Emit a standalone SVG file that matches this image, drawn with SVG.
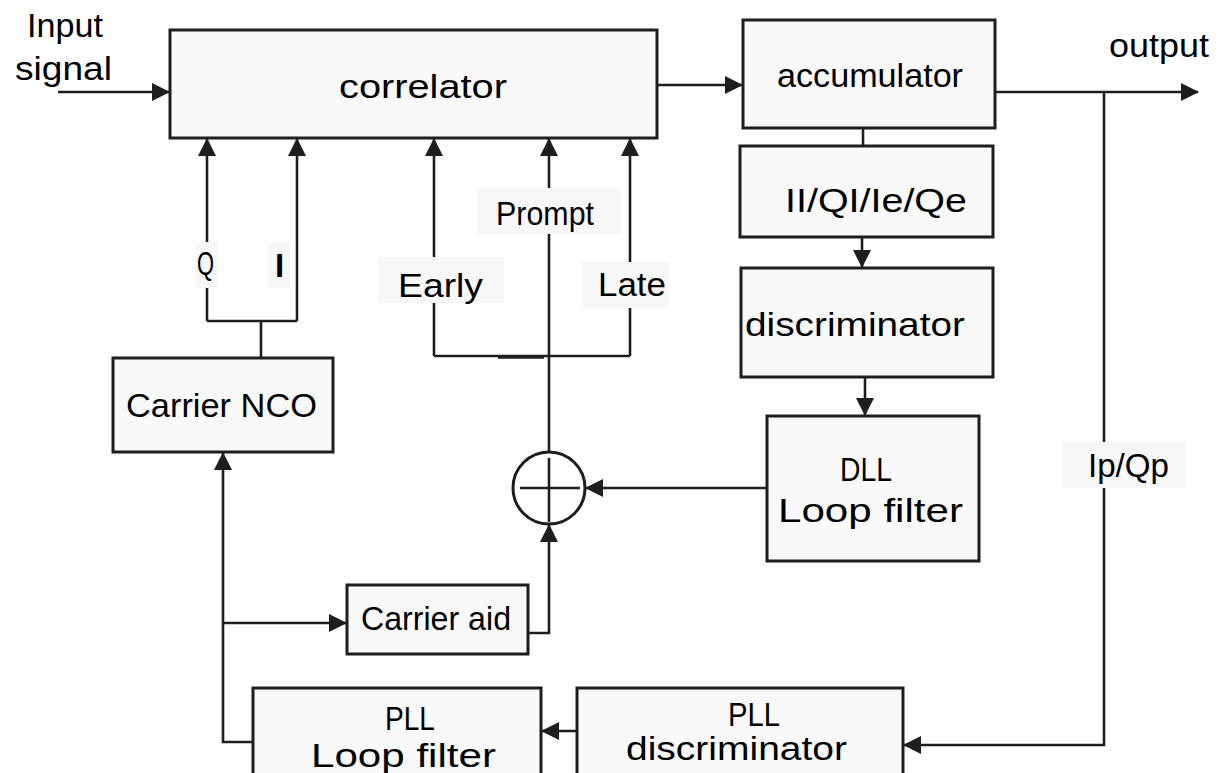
<svg xmlns="http://www.w3.org/2000/svg" width="1221" height="773" viewBox="0 0 1221 773">
<style>
.box{fill:#f9f9f9;stroke:#1e1e1e;stroke-width:3}
.ln{fill:none;stroke:#1e1e1e;stroke-width:2.6}
.arr{marker-end:url(#ah)}
.t{font-family:"Liberation Sans",Arial,sans-serif;font-size:33px;fill:#000}
.lbg{fill:#f7f7f7;stroke:none}
</style>
<defs>
<marker id="ah" viewBox="0 0 18 18" markerWidth="18" markerHeight="18" refX="17" refY="9" orient="auto" markerUnits="userSpaceOnUse">
<path d="M0,0 L18,9 L0,18 z" fill="#1e1e1e"/>
</marker>
</defs>
<rect width="1221" height="773" fill="#fff"/>

<g id="connectors">
<path class="ln arr" d="M58,92 H169"/>
<path class="ln arr" d="M657,85 H742"/>
<path class="ln arr" d="M995,92 H1198"/>
<path class="ln" d="M863,128 V146"/>
<path class="ln arr" d="M862,237 V267"/>
<path class="ln arr" d="M865,373 V415"/>
<path class="ln arr" d="M767,488 H586"/>
<path class="ln arr" d="M528,633 H549 V525"/>
<path class="ln arr" d="M549,452 V139"/>
<path class="ln arr" d="M434,356 V139"/>
<path class="ln arr" d="M630,356 V139"/>
<path class="ln" d="M434,356 H630"/>
<path class="ln" d="M498,357.5 H544"/>
<path class="ln arr" d="M207,321 V139"/>
<path class="ln arr" d="M297,321 V139"/>
<path class="ln" d="M207,321 H297 M261,321 V358"/>
<path class="ln arr" d="M253,742 H223 V453"/>
<path class="ln arr" d="M223,623 H346"/>
<path class="ln arr" d="M1104,92 V745 H904"/>
<path class="ln arr" d="M577,731 H542"/>
</g>

<g id="input-label">
<text class="t" x="27" y="37" textLength="76" lengthAdjust="spacingAndGlyphs">Input</text>
<text class="t" x="15" y="80" textLength="97" lengthAdjust="spacingAndGlyphs">signal</text>
</g>

<g id="correlator">
<rect class="box" x="170" y="30" width="487" height="108"/>
<text class="t" x="339" y="98" textLength="168" lengthAdjust="spacingAndGlyphs">correlator</text>
</g>

<g id="accumulator">
<rect class="box" x="743" y="20" width="252" height="108"/>
<text class="t" x="777" y="87" textLength="186" lengthAdjust="spacingAndGlyphs">accumulator</text>
</g>

<g id="output-label">
<text class="t" x="1109" y="57" textLength="100" lengthAdjust="spacingAndGlyphs">output</text>
</g>

<g id="iq-box">
<rect class="box" x="740" y="146" width="253" height="91"/>
<text class="t" x="785" y="212" textLength="182" lengthAdjust="spacingAndGlyphs">II/QI/Ie/Qe</text>
</g>

<g id="discriminator">
<rect class="box" x="741" y="268" width="252" height="109"/>
<text class="t" x="745" y="336" textLength="220" lengthAdjust="spacingAndGlyphs">discriminator</text>
</g>

<g id="dll-loop-filter">
<rect class="box" x="767" y="416" width="212" height="145"/>
<text class="t" x="840" y="481" textLength="52" lengthAdjust="spacingAndGlyphs">DLL</text>
<text class="t" x="778" y="522" textLength="185" lengthAdjust="spacingAndGlyphs">Loop filter</text>
</g>

<g id="sum">
<circle cx="549" cy="488" r="36" fill="#fff" stroke="#1e1e1e" stroke-width="3"/>
<path class="ln" d="M520,488 H580 M549,458 V522"/>
</g>

<g id="carrier-nco">
<rect class="box" x="113" y="358" width="220" height="94"/>
<text class="t" x="126" y="417" textLength="191" lengthAdjust="spacingAndGlyphs">Carrier NCO</text>
</g>

<g id="carrier-aid">
<rect class="box" x="347" y="585" width="181" height="69"/>
<text class="t" x="361" y="630" textLength="150" lengthAdjust="spacingAndGlyphs">Carrier aid</text>
</g>

<g id="pll-loop-filter">
<rect class="box" x="253" y="688" width="288" height="100"/>
<text class="t" x="385" y="730" textLength="50" lengthAdjust="spacingAndGlyphs">PLL</text>
<text class="t" x="311" y="767" textLength="185" lengthAdjust="spacingAndGlyphs">Loop filter</text>
</g>

<g id="pll-discriminator">
<rect class="box" x="577" y="688" width="326" height="100"/>
<text class="t" x="728" y="726" textLength="52" lengthAdjust="spacingAndGlyphs">PLL</text>
<text class="t" x="626" y="760" textLength="221" lengthAdjust="spacingAndGlyphs">discriminator</text>
</g>

<g id="labels">
<rect class="lbg" x="196" y="242" width="22" height="46"/>
<text class="t" x="197" y="275" textLength="17" lengthAdjust="spacingAndGlyphs">Q</text>
<rect class="lbg" x="268" y="242" width="22" height="46"/>
<text class="t" x="275" y="277" font-weight="bold">I</text>
<rect class="lbg" x="379" y="257" width="125" height="46"/>
<text class="t" x="398" y="297" textLength="85" lengthAdjust="spacingAndGlyphs">Early</text>
<rect class="lbg" x="477" y="188" width="144" height="46"/>
<text class="t" x="496" y="225" textLength="98" lengthAdjust="spacingAndGlyphs">Prompt</text>
<rect class="lbg" x="582" y="262" width="87" height="46"/>
<text class="t" x="598" y="296" textLength="68" lengthAdjust="spacingAndGlyphs">Late</text>
<rect class="lbg" x="1062" y="442" width="124" height="46"/>
<text class="t" x="1088" y="477" textLength="81" lengthAdjust="spacingAndGlyphs">Ip/Qp</text>
</g>
</svg>
